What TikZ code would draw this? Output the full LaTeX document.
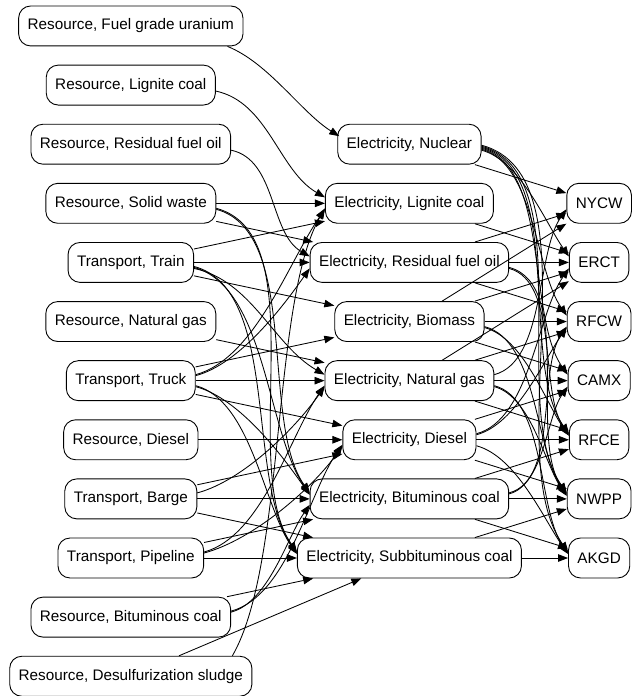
\documentclass[tikz,border=0pt]{standalone}
\usepackage{fontspec}
\setmainfont{Liberation Sans}
\usetikzlibrary{arrows.meta}
\begin{document}
\begin{tikzpicture}[x=1pt,y=1pt,
  nd/.style={draw, line width=0.9pt, rounded corners=12pt, minimum height=40pt, inner xsep=9pt, inner ysep=0pt, font=\fontsize{15.3}{18}\selectfont},
  e/.style={draw, line width=0.85pt, -{Triangle[length=10pt,width=7.5pt]}},
  dn/.style={out=-15,in=125,looseness=0.75},
  up/.style={out=15,in=-125,looseness=0.75},
  dnb/.style={out=-12,in=150,looseness=0.9}]
\useasboundingbox (0,0) rectangle (634,-697);
% left column
\node[nd] (l0) at (131,-26) {Resource, Fuel grade uranium};
\node[nd] (l1) at (131,-85.2) {Resource, Lignite coal};
\node[nd] (l2) at (131,-144.4) {Resource, Residual fuel oil};
\node[nd] (l3) at (131,-203.6) {Resource, Solid waste};
\node[nd] (l4) at (131,-262.8) {Transport, Train};
\node[nd] (l5) at (131,-322) {Resource, Natural gas};
\node[nd] (l6) at (131,-381.2) {Transport, Truck};
\node[nd] (l7) at (131,-440.4) {Resource, Diesel};
\node[nd] (l8) at (131,-499.6) {Transport, Barge};
\node[nd] (l9) at (131,-558.8) {Transport, Pipeline};
\node[nd] (l10) at (131,-618) {Resource, Bituminous coal};
\node[nd] (l11) at (131,-677.2) {Resource, Desulfurization sludge};
% middle column
\node[nd] (m2) at (410,-144.4) {Electricity, Nuclear};
\node[nd] (m3) at (410,-203.6) {Electricity, Lignite coal};
\node[nd] (m4) at (410,-262.8) {Electricity, Residual fuel oil};
\node[nd] (m5) at (410,-322) {Electricity, Biomass};
\node[nd] (m6) at (410,-381.2) {Electricity, Natural gas};
\node[nd] (m7) at (410,-440.4) {Electricity, Diesel};
\node[nd] (m8) at (410,-499.6) {Electricity, Bituminous coal};
\node[nd] (m9) at (410,-558.8) {Electricity, Subbituminous coal};
% right column
\node[nd] (r3) at (600,-203.6) {NYCW};
\node[nd] (r4) at (600,-262.8) {ERCT};
\node[nd] (r5) at (600,-322) {RFCW};
\node[nd] (r6) at (600,-381.2) {CAMX};
\node[nd] (r7) at (600,-440.4) {RFCE};
\node[nd] (r8) at (600,-499.6) {NWPP};
\node[nd] (r9) at (600,-558.8) {AKGD};
% left to middle
\draw[e] ([xshift=-16pt]l0.south east) to[out=-22,in=148,looseness=0.8] ([xshift=2pt,yshift=8pt]m2.west);
\draw[e] ([yshift=-6pt]l1.east) to[dnb] ([yshift=6pt]m3.west);
\draw[e] ([yshift=-6pt]l2.east) to[dnb] ([yshift=6pt]m4.west);
\draw[e] (l3) -- (m3);
\draw[e] (l3) -- (m4);
\draw[e] ([yshift=-6pt]l3.east) to[dn] ([yshift=6pt]m8.west);
\draw[e] ([yshift=-5pt]l3.east) to[dn] ([yshift=6pt]m9.west);
\draw[e] (l4) -- (m3);
\draw[e] (l4) -- (m4);
\draw[e] (l4) -- (m5);
\draw[e] ([yshift=-6pt]l4.east) to[dnb] ([yshift=6pt]m6.west);
\draw[e] ([yshift=-5pt]l4.east) to[dn] ([yshift=5pt]m8.west);
\draw[e] ([yshift=-4pt]l4.east) to[dn] ([yshift=5pt]m9.west);
\draw[e] (l5) -- (m6);
\draw[e] ([yshift=6pt]l6.east) to[up] ([yshift=-6pt]m3.west);
\draw[e] ([yshift=5pt]l6.east) to[up] ([yshift=-6pt]m4.west);
\draw[e] (l6) -- (m5);
\draw[e] (l6) -- (m6);
\draw[e] (l6) -- (m7);
\draw[e] ([yshift=-6pt]l6.east) to[dn] ([yshift=4pt]m8.west);
\draw[e] ([yshift=-5pt]l6.east) to[dn] ([yshift=4pt]m9.west);
\draw[e] (l7) -- (m7);
\draw[e] ([yshift=6pt]l8.east) to[up] ([yshift=-6pt]m6.west);
\draw[e] (l8) -- (m7);
\draw[e] (l8) -- (m8);
\draw[e] (l8) -- (m9);
\draw[e] ([yshift=6pt]l9.east) to[up] ([yshift=-5pt]m6.west);
\draw[e] ([yshift=5pt]l9.east) to[up] ([yshift=-6pt]m7.west);
\draw[e] (l9) -- (m8);
\draw[e] (l9) -- (m9);
\draw[e] ([yshift=6pt]l10.east) to[up] ([yshift=-5pt]m7.west);
\draw[e] ([yshift=5pt]l10.east) to[up] ([yshift=-6pt]m8.west);
\draw[e] (l10) -- (m9);
\draw[e] ([xshift=-20pt]l11.north east) to[out=60,in=-120,looseness=0.6] ([yshift=-5pt]m3.west);
\draw[e] (l11) -- (m9);
% middle to right
\draw[e] (m2) -- (r3);
\draw[e] ([yshift=-6pt]m2.east) to[dn] ([yshift=6pt]r4.west);
\draw[e] ([yshift=-5pt]m2.east) to[dn] ([yshift=6pt]r5.west);
\draw[e] ([yshift=-4pt]m2.east) to[dn] ([yshift=6pt]r6.west);
\draw[e] ([yshift=-3pt]m2.east) to[dn] ([yshift=6pt]r7.west);
\draw[e] ([yshift=-2pt]m2.east) to[dn] ([yshift=6pt]r8.west);
\draw[e] ([yshift=-1pt]m2.east) to[dn] ([yshift=6pt]r9.west);
\draw[e] (m3) -- (r4);
\draw[e] (m4) -- (r3);
\draw[e] (m4) -- (r4);
\draw[e] (m4) -- (r5);
\draw[e] ([yshift=-6pt]m4.east) to[dn] ([yshift=5pt]r7.west);
\draw[e] ([yshift=-5pt]m4.east) to[dn] ([yshift=5pt]r8.west);
\draw[e] (m5) -- (r3);
\draw[e] (m5) -- (r4);
\draw[e] (m5) -- (r5);
\draw[e] (m5) -- (r6);
\draw[e] ([yshift=-6pt]m5.east) to[dn] ([yshift=4pt]r7.west);
\draw[e] ([yshift=-5pt]m5.east) to[dn] ([yshift=4pt]r8.west);
\draw[e] ([yshift=6pt]m6.east) to[up] ([yshift=-6pt]r3.west);
\draw[e] (m6) -- (r4);
\draw[e] (m6) -- (r5);
\draw[e] (m6) -- (r6);
\draw[e] (m6) -- (r7);
\draw[e] ([yshift=-6pt]m6.east) to[dn] ([yshift=3pt]r8.west);
\draw[e] ([yshift=-5pt]m6.east) to[dn] ([yshift=5pt]r9.west);
\draw[e] ([yshift=6pt]m7.east) to[up] ([yshift=-6pt]r4.west);
\draw[e] ([yshift=5pt]m7.east) to[up] ([yshift=-6pt]r5.west);
\draw[e] (m7) -- (r6);
\draw[e] (m7) -- (r7);
\draw[e] (m7) -- (r8);
\draw[e] ([yshift=-6pt]m7.east) to[dn] ([yshift=4pt]r9.west);
\draw[e] ([yshift=6pt]m8.east) to[up] ([yshift=-5pt]r5.west);
\draw[e] ([yshift=5pt]m8.east) to[up] ([yshift=-6pt]r6.west);
\draw[e] (m8) -- (r7);
\draw[e] (m8) -- (r8);
\draw[e] (m8) -- (r9);
\draw[e] (m9) -- (r8);
\draw[e] (m9) -- (r9);
\end{tikzpicture}
\end{document}
